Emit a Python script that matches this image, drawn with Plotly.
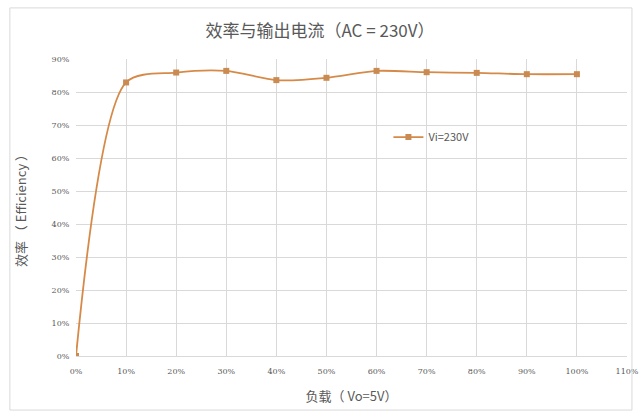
import plotly.graph_objects as go

load = [0.0, 0.1, 0.2, 0.3, 0.4, 0.5, 0.6, 0.7, 0.8, 0.9, 1.0]
efficiency = [0.0, 0.829, 0.859, 0.864, 0.836, 0.843, 0.864, 0.860, 0.858, 0.854, 0.854]
series_name = "Vi=230V"
x_ticks = [i / 10 for i in range(12)]
x_labels = [f"{i*10}%" for i in range(12)]
y_ticks = [i / 10 for i in range(10)]
y_labels = [f"{i*10}%" for i in range(10)]

fig = go.Figure()
fig.add_trace(go.Scatter(
    x=load, y=efficiency, name=series_name, mode="lines+markers",
    line=dict(color="#D68A48", width=1.8, shape="spline", smoothing=0.8),
    marker=dict(symbol="square", size=6, color="#C98B52"),
))

fig.update_layout(
    width=640, height=414,
    margin=dict(l=76, r=13, t=59, b=58, autoexpand=False),
    paper_bgcolor="white", plot_bgcolor="white",
    title=dict(text="效率与输出电流（AC = 230V）", x=0.5, xanchor="center", y=0.925, yanchor="middle",
               font=dict(family="Noto Sans CJK SC", size=17, color="#595959")),
    showlegend=True,
    legend=dict(x=0.567, y=0.737, xanchor="left", yanchor="middle", bgcolor="rgba(0,0,0,0)",
                font=dict(family="Noto Sans CJK SC", size=11, color="#595959")),
    xaxis=dict(range=[0, 1.1], tickvals=x_ticks, ticktext=x_labels, showgrid=True, automargin=False,
               gridcolor="#D9D9D9", gridwidth=1, zeroline=False, showline=True, linecolor="#D9D9D9",
               ticks="outside", ticklen=7, tickcolor="rgba(0,0,0,0)",
               tickfont=dict(family="DejaVu Serif", size=8, color="#595959"),
               title=dict(text="负载（ Vo=5V）", font=dict(family="Noto Sans CJK SC", size=13, color="#595959"), standoff=17)),
    yaxis=dict(range=[0, 0.9], tickvals=y_ticks, ticktext=y_labels, showgrid=True, automargin=False,
               gridcolor="#D9D9D9", gridwidth=1, zeroline=False, showline=False,
               ticks="outside", ticklen=4, tickcolor="rgba(0,0,0,0)",
               tickfont=dict(family="DejaVu Serif", size=8, color="#595959"),
               title=dict(text="效率 （ Efficiency ）", font=dict(family="Noto Sans CJK SC", size=13, color="#595959"), standoff=22)),
    shapes=[dict(type="rect", xref="paper", yref="paper", x0=-0.12, y0=-0.182, x1=1.009, y1=1.172,
                 line=dict(color="#D9D9D9", width=1))],
)

fig.write_html("out.html", config={"displayModeBar": False},
               post_script="document.body.style.margin='0';document.body.style.padding='0';")
